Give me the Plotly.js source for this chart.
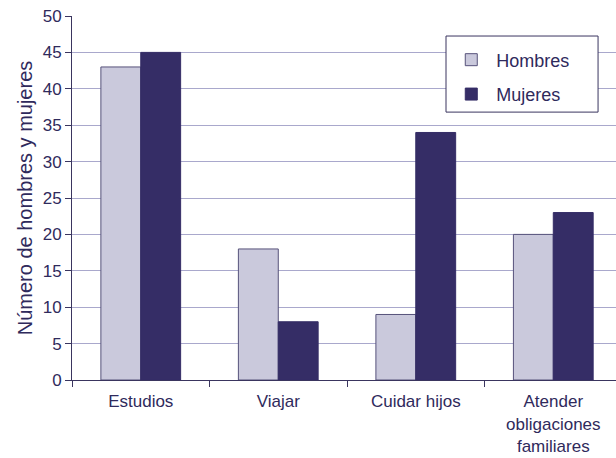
<!DOCTYPE html>
<html><head><meta charset="utf-8">
<script src="https://cdn.plot.ly/plotly-3.0.1.min.js"></script>
<style>html,body{margin:0;padding:0;background:#fff}#c{width:616px;height:458px}</style>
</head><body><div id="c"></div>
<script>
const categories = ["Estudios", "Viajar", "Cuidar hijos", "Atender<br>obligaciones<br>familiares"];
const hombres = [43, 18, 9, 20];
const mujeres = [45, 8, 34, 23];
const yTicks = [0, 5, 10, 15, 20, 25, 30, 35, 40, 45, 50];

const txt = "#2f2a5c";
const fam = "Liberation Sans, Arial, sans-serif";
const tickFont = {family: fam, size: 17, color: txt};
const data = [
  {type: "bar", name: "Hombres", x: categories, y: hombres, legendgroup: "h",
   marker: {color: "#cac9dc", line: {color: "#56527a", width: 1}}},
  {type: "bar", name: "Mujeres", x: categories, y: mujeres, legendgroup: "m",
   marker: {color: "#352d66", line: {color: "#352d66", width: 1}}}
];
const layout = {
  width: 616, height: 458,
  margin: {l: 72, r: 0, t: 16, b: 78},
  paper_bgcolor: "#fff", plot_bgcolor: "#fff",
  font: tickFont,
  barmode: "group", bargap: 0.42, bargroupgap: 0,
  showlegend: true,
  legend: {x: 0.688, y: 0.93, xanchor: "left", yanchor: "top",
    bgcolor: "rgba(0,0,0,0)", borderwidth: 0,
    font: {family: fam, size: 18, color: txt},
    itemwidth: 40, tracegroupgap: 8},
  shapes: [{type: "rect", xref: "paper", yref: "paper", layer: "above",
    x0: 0.6875, x1: 0.967, y0: 0.736, y1: 0.945,
    fillcolor: "#fff", line: {color: "#3a355f", width: 1}}],
  xaxis: {type: "category", range: [-0.5, 3.456], tickson: "boundaries",
    ticks: "outside", ticklen: 6, tickcolor: "#3a355f",
    showline: true, linecolor: "#3a355f", linewidth: 1,
    showgrid: false, tickfont: {family: fam, size: 17, color: txt},
    ticklabelstandoff: 6, fixedrange: true},
  yaxis: {range: [0, 50], tickmode: "array", tickvals: yTicks,
    ticks: "outside", ticklen: 6, tickcolor: "#3a355f",
    showline: true, linecolor: "#3a355f", linewidth: 1,
    showgrid: true, gridcolor: "#a9a8cc", gridwidth: 1,
    zeroline: false, tickfont: tickFont,
    title: {text: "Número de hombres y mujeres", font: {family: fam, size: 20, color: txt}, standoff: 4}}
};
Plotly.newPlot("c", data, layout, {displayModeBar: false, staticPlot: true});
</script></body></html>
